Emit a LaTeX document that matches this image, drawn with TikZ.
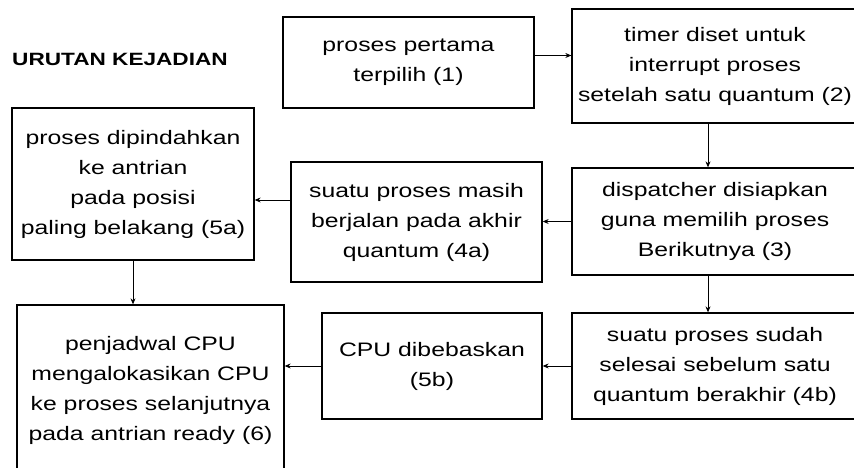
\documentclass[tikz,border=0pt]{standalone}
\usepackage{fontspec}
\setmainfont{Liberation Sans}[FakeStretch=1.27]
\usepackage{tikz}
\usetikzlibrary{shapes.geometric, arrows, arrows.meta}
\tikzstyle{block} = [rectangle, minimum width=286pt, minimum height=107pt, inner sep=2pt, text centered, align=center, draw=black, line width=1.3pt, fill=white, font=\fontsize{19.5pt}{30pt}\selectfont]
\tikzstyle{block2} = [block, minimum width=251pt]
\tikzstyle{block3} = [block, minimum width=242pt, minimum height=152pt]
\tikzstyle{heading} = [anchor=west, inner sep=0pt, font=\fontsize{17.8pt}{21pt}\selectfont\bfseries]
\tikzstyle{arrow} = [thick,-{Stealth[length=6pt,width=5pt]}]

\begin{document}
\begin{tikzpicture}[node distance=150pt]
        \useasboundingbox (0,0) rectangle (854pt,-468pt);
        \node (title) [heading] at (12pt,-59pt) {URUTAN KEJADIAN};
        \node (blo1) [block2, minimum height=91pt] at (408.5pt,-62.5pt) {proses pertama\\terpilih (1)};
        \node (blo2) [block, right of=blo1, xshift=+156.5pt, yshift=-3.5pt, minimum height=114pt] {timer diset untuk\\interrupt proses\\setelah satu quantum (2)};
        \node (blo3) [block, below of=blo2, yshift=-5.5pt] {dispatcher disiapkan\\guna memilih proses\\Berikutnya (3)};
        \node (blo4a) [block2, left of=blo3, xshift=-148.5pt, yshift=-0.5pt, minimum height=120pt] {suatu proses masih\\berjalan pada akhir\\quantum (4a)};
        \node (blo5a) [block3, left of=blo4a, xshift=-133.5pt, yshift=+38pt] {proses dipindahkan\\ke antrian\\pada posisi\\paling belakang (5a)};
        \node (blo6) [block, below of=blo5a, xshift=+17.5pt, yshift=-56pt, minimum width=267pt, minimum height=170pt] {penjadwal CPU\\mengalokasikan CPU\\ke proses selanjutnya\\pada antrian ready (6)};
        \node (blo4b) [block, below of=blo3, yshift=+5.5pt, minimum height=106pt] {suatu proses sudah\\selesai sebelum satu\\quantum berakhir (4b)};
        \node (blo5b) [block, left of=blo4b, xshift=-133pt, minimum width=220pt, minimum height=106pt] {CPU dibebaskan\\(5b)};

        \draw [arrow] ([yshift=+7pt]blo1.east) -- ([yshift=+7pt]blo1.east -| blo2.west);
        \draw [arrow] ([xshift=-7pt]blo2.south) -- ([xshift=-7pt]blo2.south |- blo3.north);
        \draw [arrow] (blo3.west) -- (blo3.west -| blo4a.east);
        \draw [arrow] ([yshift=+22pt]blo4a.west) -- ([yshift=+22pt]blo4a.west -| blo5a.east);
        \draw [arrow] (blo5a.south) -- (blo5a.south |- blo6.north);
        \draw [arrow] ([xshift=-7pt]blo3.south) -- ([xshift=-7pt]blo3.south |- blo4b.north);
        \draw [arrow] (blo4b.west) -- (blo4b.west -| blo5b.east);
        \draw [arrow] (blo5b.west) -- (blo5b.west -| blo6.east);
 \end{tikzpicture}
\end{document}
